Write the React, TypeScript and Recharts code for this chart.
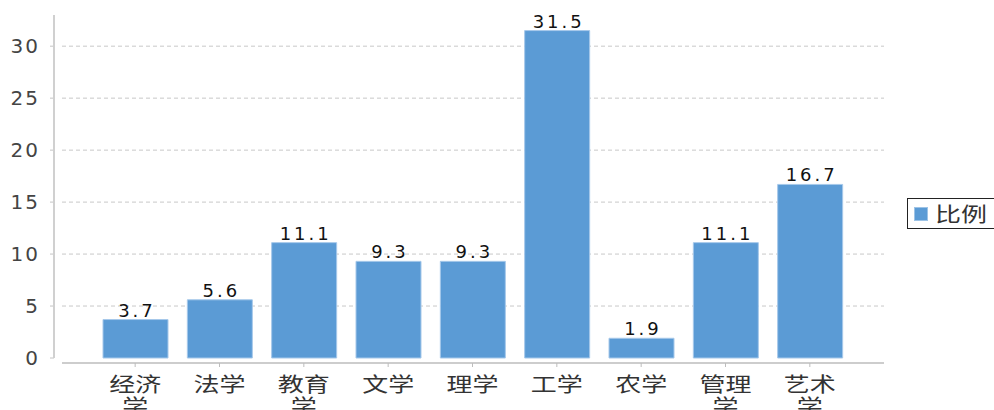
import { BarChart, Bar, XAxis, YAxis, CartesianGrid, Legend, LabelList } from 'recharts'

const categories = ['经济学', '法学', '教育学', '文学', '理学', '工学', '农学', '管理学', '艺术学']
const ratios = [3.7, 5.6, 11.1, 9.3, 9.3, 31.5, 1.9, 11.1, 16.7]
const yTicks = [0, 5, 10, 15, 20, 25, 30]
const seriesName = '比例'

const data = categories.map((name, i) => ({ name, value: ratios[i] }))

const BLUE = '#5B9BD5'
const CJK = '"Noto Sans CJK SC", "Noto Sans", sans-serif'
const NUM = '"DejaVu Sans", Verdana, sans-serif'

function YTick({ y, payload }: any) {
  return (
    <g>
      <line x1={50} x2={54} y1={y} y2={y} stroke="#c4c4c4" />
      <text x={40} y={y} dy={7} textAnchor="end" fontSize={20} letterSpacing={2} fill="#444" fontFamily={NUM}>
        {payload.value}
      </text>
    </g>
  )
}

function XTick({ x, payload }: any) {
  const label: string = payload.value
  const lines: string[] = []
  for (let i = 0; i < label.length; i += 2) lines.push(label.slice(i, i + 2))
  return (
    <g transform={`translate(${x},0) scale(1.3,1)`}>
      {lines.map((line, i) => (
        <text key={i} x={0} y={392 + i * 22} textAnchor="middle" fontSize={20} fill="#333" fontFamily={CJK}>
          {line}
        </text>
      ))}
    </g>
  )
}

function ValueLabel({ x, y, width, value }: any) {
  return (
    <text x={x + width / 2 + 1.5} y={y - 3} textAnchor="middle" fontSize={18} letterSpacing={3} fill="#111" fontFamily={NUM}>
      {value}
    </text>
  )
}

function LegendBox({ payload }: any) {
  return (
    <div
      style={{
        boxSizing: 'border-box',
        width: 100,
        height: 31,
        border: '1.5px solid #222',
        display: 'flex',
        alignItems: 'center',
        paddingLeft: 6,
        background: '#fff',
      }}
    >
      {(payload || []).map((entry: any) => (
        <div key={entry.value} style={{ display: 'flex', alignItems: 'center' }}>
          <span style={{ width: 14, height: 14, background: BLUE, boxSizing: 'border-box', border: '1px solid #9dc3e6' }} />
          <span
            style={{
              marginLeft: 7,
              fontSize: 20,
              fontFamily: CJK,
              color: '#333',
              display: 'inline-block',
              transform: 'scaleX(1.3)',
              transformOrigin: 'left center',
              lineHeight: '20px',
            }}
          >
            {entry.value}
          </span>
        </div>
      ))}
    </div>
  )
}

export default function App() {
  return (
    <div style={{ position: 'absolute', left: 0, top: 0, width: 994, height: 410, background: '#fff', overflow: 'hidden' }}>
      <BarChart width={994} height={410} data={data} margin={{ top: 15, right: 10, left: 0, bottom: 0 }}>
        <CartesianGrid vertical={false} horizontalValues={yTicks.filter((t) => t > 0)} strokeDasharray="4 3" stroke="#c8c8c8" />
        <XAxis
          dataKey="name"
          height={47}
          interval={0}
          padding={{ left: 31, right: 32 }}
          axisLine={{ stroke: '#bdbdbd', strokeWidth: 1.5 }}
          tickLine={{ stroke: '#bdbdbd' }}
          tickSize={4}
          tick={<XTick />}
        />
        <YAxis width={62} domain={[-0.48, 33]} ticks={yTicks} interval={0} axisLine={false} tickLine={false} tick={<YTick />} />
        <Legend
          layout="horizontal"
          verticalAlign="middle"
          align="right"
          content={<LegendBox />}
          wrapperStyle={{ left: 907, top: 198, width: 100, height: 31 }}
        />
        <Bar dataKey="value" name={seriesName} fill={BLUE} stroke="#a6c8ea" strokeWidth={1} barSize={65} isAnimationActive={false}>
          <LabelList dataKey="value" content={<ValueLabel />} />
        </Bar>
      </BarChart>
      <div style={{ position: 'absolute', left: 53, top: 15, width: 2, height: 343, background: '#d0d0d0' }} />
    </div>
  )
}
